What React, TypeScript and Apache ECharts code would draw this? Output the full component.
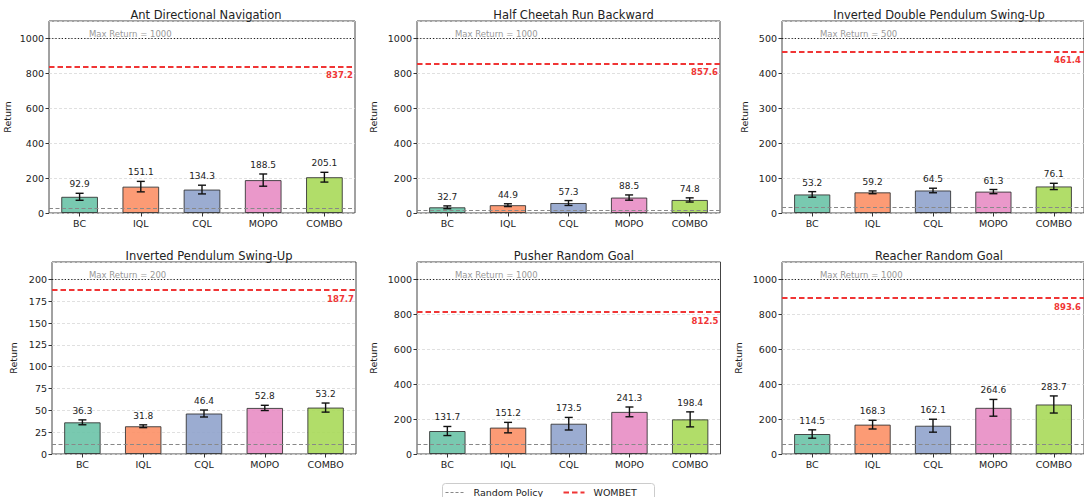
import React, { useEffect, useRef } from "react";
import * as echarts from "echarts";

// ---------------- data ----------------
const categories = ["BC", "IQL", "CQL", "MOPO", "COMBO"];
const taskTitles = [
  "Ant Directional Navigation",
  "Half Cheetah Run Backward",
  "Inverted Double Pendulum Swing-Up",
  "Inverted Pendulum Swing-Up",
  "Pusher Random Goal",
  "Reacher Random Goal",
];
const antMeans = [92.9, 151.1, 134.3, 188.5, 205.1];
const antErrs = [20, 30, 25, 35, 28];
const cheetahMeans = [32.7, 44.9, 57.3, 88.5, 74.8];
const cheetahErrs = [8, 8, 14, 15, 12];
const idpMeans = [53.2, 59.2, 64.5, 61.3, 76.1];
const idpErrs = [8, 4, 6.5, 6, 9];
const ipMeans = [36.3, 31.8, 46.4, 52.8, 53.2];
const ipErrs = [2.8, 1.6, 4, 3, 5.2];
const pusherMeans = [131.7, 151.2, 173.5, 241.3, 198.4];
const pusherErrs = [26, 30, 36, 28, 43];
const reacherMeans = [114.5, 168.3, 162.1, 264.6, 283.7];
const reacherErrs = [24, 25, 37, 48, 49];
const randomPolicy = [25, 15, 16, 11.4, 58, 57];
const wombet = [837.2, 857.6, 461.4, 187.7, 812.5, 893.6];
const maxReturn = [1000, 1000, 500, 200, 1000, 1000];
const yMaxes = [1100, 1100, 550, 220, 1100, 1100];
const yIntervals = [200, 200, 100, 25, 200, 200];

const allMeans = [antMeans, cheetahMeans, idpMeans, ipMeans, pusherMeans, reacherMeans];
const allErrs = [antErrs, cheetahErrs, idpErrs, ipErrs, pusherErrs, reacherErrs];

// ---------------- layout / style ----------------
const gridLefts = [49, 417, 782, 52, 417, 782];
const gridWidths = [306, 303, 308, 304, 303.5, 308];
const gridTops = [21, 21, 21, 262, 262, 262];
const gridHeight = 192;
const nameGaps = [36.5, 39, 33, 34, 39, 39];
const maxLabelOffsets = [40, 38, 38, 37, 38, 38];
const wombetLabelOffsets = [2, 2, 3, 2, 2, 3];
const barColors = ["#66c2a5", "#fc8d62", "#8da0cb", "#e78ac3", "#a6d854"];
const FONT = "DejaVu Sans";

export default function App() {
  const ref = useRef<HTMLDivElement>(null);

  useEffect(() => {
    if (!ref.current) return;
    const chart = echarts.init(ref.current, undefined, { renderer: "svg" });

    const grids: any[] = [];
    const xAxes: any[] = [];
    const yAxes: any[] = [];
    const titles: any[] = [];
    const series: any[] = [];

    for (let k = 0; k < 6; k++) {
      grids.push({
        left: gridLefts[k],
        top: gridTops[k],
        width: gridWidths[k],
        height: gridHeight,
        show: true,
        borderColor: "#444",
        borderWidth: 1,
        backgroundColor: "transparent",
      });
      titles.push({
        text: taskTitles[k],
        left: gridLefts[k] + Math.min(gridWidths[k], 304) / 2,
        textAlign: "center",
        top: gridTops[k] - 17,
        textStyle: { fontFamily: FONT, fontSize: 11.5, fontWeight: "normal", color: "#222" },
      });
      xAxes.push({
        type: "category",
        gridIndex: k,
        data: categories,
        axisLine: { show: false },
        axisTick: { show: true, alignWithLabel: true, length: 3.5, lineStyle: { color: "#333" } },
        axisLabel: { fontFamily: FONT, fontSize: 9.5, color: "#222", margin: 5 },
        splitLine: { show: false },
      });
      yAxes.push({
        type: "value",
        gridIndex: k,
        min: 0,
        max: yMaxes[k],
        interval: yIntervals[k],
        name: "Return",
        nameLocation: "middle",
        nameGap: nameGaps[k],
        nameTextStyle: { fontFamily: FONT, fontSize: 9.5, color: "#222" },
        axisLine: { show: false },
        axisTick: { show: true, length: 3.5, lineStyle: { color: "#333" } },
        axisLabel: {
          fontFamily: FONT,
          fontSize: 9.5,
          color: "#222",
          margin: 5,
          showMaxLabel: false,
          formatter: (v: number) => String(v),
        },
        splitLine: { show: true, lineStyle: { color: "#d8d8d8", type: [3, 2], width: 0.8 } },
      });

      // reference lines (behind bars)
      series.push({
        type: "line",
        xAxisIndex: k,
        yAxisIndex: k,
        data: [],
        z: 1,
        silent: true,
        markLine: {
          silent: true,
          symbol: ["none", "none"],
          animation: false,
          data: [
            {
              yAxis: randomPolicy[k],
              lineStyle: { color: "#888", type: [4, 2.5], width: 1.2 },
              label: { show: false },
            },
            {
              yAxis: wombet[k],
              lineStyle: { color: "#f03535", type: [5.5, 3], width: 1.8 },
              label: {
                show: true,
                position: "insideEndBottom",
                distance: [wombetLabelOffsets[k], 4],
                formatter: wombet[k].toFixed(1),
                color: "#f03535",
                fontFamily: FONT,
                fontSize: 8.5,
                fontWeight: "bold",
              },
            },
            {
              yAxis: maxReturn[k],
              lineStyle: { color: "#222", type: [1.2, 2], width: 1.2 },
              label: {
                show: true,
                position: "insideStartTop",
                distance: [maxLabelOffsets[k], 0],
                formatter: "Max Return = " + maxReturn[k],
                color: "#999",
                fontFamily: FONT,
                fontSize: 8.5,
              },
            },
          ],
        },
      });

      series.push({
        type: "bar",
        xAxisIndex: k,
        yAxisIndex: k,
        barWidth: "60%",
        z: 2,
        data: allMeans[k].map((v, i) => ({
          value: v,
          itemStyle: { color: barColors[i], opacity: 0.88, borderColor: "#333", borderWidth: 1 },
        })),
      });

      series.push({
        type: "custom",
        xAxisIndex: k,
        yAxisIndex: k,
        z: 3,
        data: allMeans[k].map((v, i) => [i, v, allErrs[k][i]]),
        encode: { x: 0, y: 1 },
        renderItem: (params: any, api: any) => {
          const i = api.value(0);
          const v = api.value(1);
          const e = api.value(2);
          const top = api.coord([i, v + e]);
          const bot = api.coord([i, v - e]);
          const cap = 4;
          const st = { stroke: "#111", lineWidth: 1.4 };
          return {
            type: "group",
            children: [
              { type: "line", shape: { x1: top[0], y1: top[1], x2: bot[0], y2: bot[1] }, style: st },
              { type: "line", shape: { x1: top[0] - cap, y1: top[1], x2: top[0] + cap, y2: top[1] }, style: st },
              { type: "line", shape: { x1: bot[0] - cap, y1: bot[1], x2: bot[0] + cap, y2: bot[1] }, style: st },
              {
                type: "text",
                x: top[0],
                y: top[1] - 9,
                style: {
                  text: Number(v).toFixed(1),
                  fill: "#222",
                  fontFamily: FONT,
                  fontSize: 9,
                  align: "center",
                  verticalAlign: "middle",
                },
              },
            ],
          };
        },
      });
    }

    const legendGraphic = {
      type: "group",
      left: 442,
      top: 483,
      children: [
        { type: "rect", shape: { x: 0, y: 0, width: 212, height: 22, r: 3 }, style: { fill: "#fff", stroke: "#cccccc", lineWidth: 1 } },
        { type: "line", shape: { x1: 3, y1: 9, x2: 23, y2: 9 }, style: { stroke: "#888", lineWidth: 1.2, lineDash: [3, 2] } },
        { type: "text", x: 31, y: 9, style: { text: "Random Policy", fill: "#222", fontFamily: FONT, fontSize: 9.5, verticalAlign: "middle" } },
        { type: "line", shape: { x1: 121, y1: 9, x2: 142, y2: 9 }, style: { stroke: "#f03535", lineWidth: 1.8, lineDash: [5.5, 3] } },
        { type: "text", x: 151, y: 9, style: { text: "WOMBET", fill: "#222", fontFamily: FONT, fontSize: 9.5, verticalAlign: "middle" } },
      ],
    };

    chart.setOption({
      animation: false,
      backgroundColor: "#fff",
      textStyle: { fontFamily: FONT },
      title: titles,
      grid: grids,
      xAxis: xAxes,
      yAxis: yAxes,
      series,
      graphic: [legendGraphic],
    });

    return () => chart.dispose();
  }, []);

  return (
    <div
      ref={ref}
      style={{ position: "fixed", left: 0, top: 0, width: 1084, height: 497, background: "#fff" }}
    />
  );
}
